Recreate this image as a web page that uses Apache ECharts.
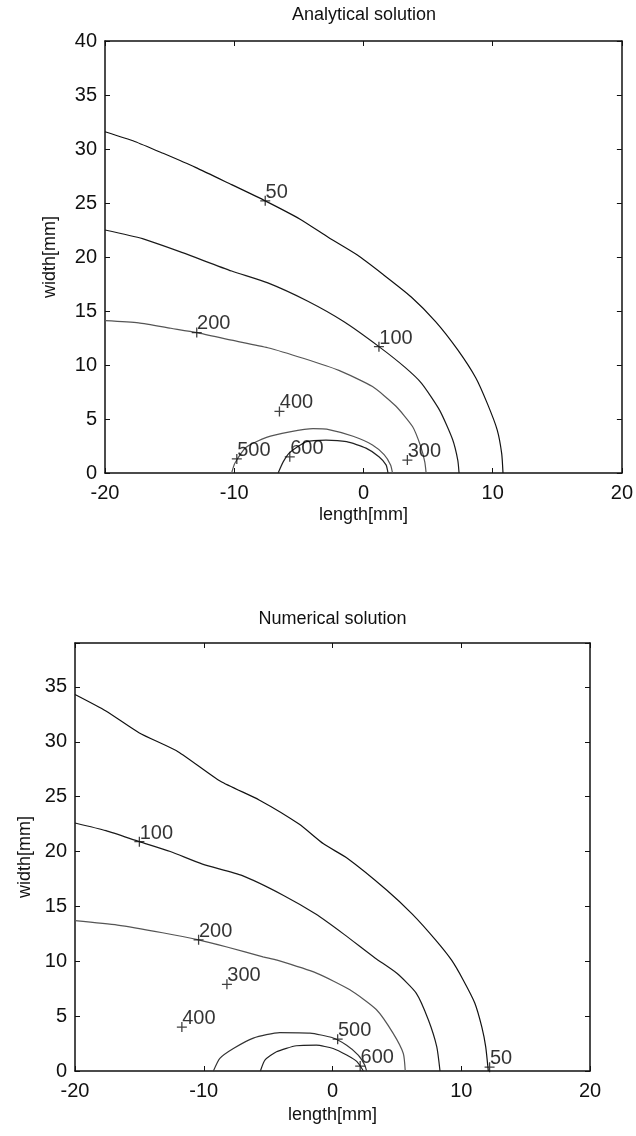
<!DOCTYPE html>
<html><head><meta charset="utf-8">
<script src="https://cdn.jsdelivr.net/npm/echarts/dist/echarts.min.js"></script>
<style>html,body{margin:0;padding:0;background:#fff}#c{width:636px;height:1136px}</style>
</head><body><div id="c"></div>
<script>
// ---- Analytical solution (top) ----
const A50  = [[-20,31.6],[-17.7,30.7],[-15.5,29.6],[-13.0,28.3],[-10.2,26.7],[-7.6,25.2],[-4.9,23.5],[-2.7,21.8],[-0.5,20.2],[1.5,18.4],[3.7,16.3],[5.6,14.0],[7.3,11.4],[8.7,8.8],[9.6,6.4],[10.35,4.0],[10.7,1.8],[10.8,0]];
const A100 = [[-20,22.5],[-17.1,21.7],[-14.0,20.4],[-10.2,18.7],[-7.4,17.6],[-4.3,15.9],[-1.5,14.0],[1.2,11.7],[3.2,9.8],[4.5,8.3],[5.9,5.8],[6.9,3.1],[7.3,1.2],[7.4,0]];
const A200 = [[-20,14.1],[-17.4,13.9],[-14.9,13.4],[-12.9,13.0],[-10.2,12.3],[-7.4,11.6],[-4.6,10.6],[-1.9,9.5],[0.7,8.0],[2.5,6.2],[3.8,4.3],[4.45,2.4],[4.75,1.0],[4.85,0]];
const A500 = [[-10.2,0],[-9.95,0.9],[-9.05,2.4],[-7.5,3.3],[-5.7,3.8],[-3.9,4.1],[-2.6,4.0],[-0.8,3.4],[0.7,2.6],[1.6,1.7],[2.1,0.75],[2.25,0]];
const A600 = [[-6.6,0],[-6.2,1.05],[-5.7,1.9],[-4.4,2.9],[-2.9,3.05],[-1.3,2.9],[0.2,2.3],[1.2,1.5],[1.75,0.75],[1.9,0]];
const A_LABELS = [[-7.6,25.2,'50'],[1.2,11.7,'100'],[-12.9,13.0,'200'],[3.4,1.2,'300'],[-6.5,5.7,'400'],[-9.8,1.3,'500'],[-5.7,1.5,'600']];

// ---- Numerical solution (bottom) ----
const N50  = [[-20,34.3],[-17.6,32.8],[-15.0,30.8],[-12.0,29.1],[-8.7,26.4],[-5.7,24.7],[-2.6,22.5],[-0.7,20.7],[1.2,19.35],[4.2,16.5],[6.2,14.3],[8.0,11.95],[9.25,10.1],[10.15,8.3],[11.05,6.2],[11.6,4.0],[11.9,2.2],[12.1,0]];
const N100 = [[-20,22.6],[-17.6,21.9],[-15.0,20.9],[-12.6,20.0],[-10.1,18.85],[-7.0,17.8],[-3.8,16.0],[-1.3,14.3],[0.9,12.45],[3.3,10.3],[5.0,8.9],[6.5,7.1],[7.45,4.65],[8.1,2.2],[8.35,0]];
const N200 = [[-20,13.7],[-16.7,13.3],[-13.2,12.6],[-10.4,11.95],[-8.2,11.3],[-5.4,10.4],[-4.3,10.1],[-1.2,8.9],[1.35,7.4],[3.4,5.6],[4.7,3.45],[5.5,1.6],[5.65,0]];
const N500 = [[-9.25,0],[-8.75,1.15],[-7.7,2.05],[-6.15,3.0],[-4.1,3.5],[-1.75,3.45],[-0.05,3.05],[1.1,2.35],[2.0,1.45],[2.5,0.55],[2.65,0]];
const N600 = [[-5.6,0],[-5.25,1.0],[-4.35,1.75],[-2.8,2.3],[-1.25,2.35],[0.05,2.05],[1.1,1.45],[1.9,0.85],[2.4,0]];
const N_LABELS = [[12.2,0.35,'50'],[-15.0,20.9,'100'],[-10.4,11.95,'200'],[-8.2,7.9,'300'],[-11.7,4.0,'400'],[0.4,2.9,'500'],[2.15,0.45,'600']];

const X_MIN = -20, X_MAX = 20, X_STEP = 10;
const Y_STEP = 5;
const TITLES = ['Analytical solution', 'Numerical solution'];
const X_NAME = 'length[mm]', Y_NAME = 'width[mm]';

const FONT = 'Liberation Sans, Arial, sans-serif';
const INK = '#111';

const grids = [
  {left:105, top:41, width:518, height:432},
  {left:75, top:643, width:515, height:428}
];
const yMax = [40, 39];
const yNameGap = [46, 40];
const xNameGap = [33, 35];

const xAxes = [], yAxes = [];
grids.forEach((g, i) => {
  const line = {show:true, onZero:false, lineStyle:{color:INK, width:1.5}};
  const tick = {show:true, inside:true, length:5, lineStyle:{color:INK, width:1}};
  xAxes.push({gridIndex:i, type:'value', min:X_MIN, max:X_MAX, interval:X_STEP, position:'bottom',
    name:X_NAME, nameLocation:'middle', nameGap:xNameGap[i],
    nameTextStyle:{fontSize:18, color:INK, fontFamily:FONT},
    axisLine:line, axisTick:tick, splitLine:{show:false},
    axisLabel:{fontSize:20, color:INK, fontFamily:FONT, margin:10}});
  xAxes.push({gridIndex:i, type:'value', min:X_MIN, max:X_MAX, interval:X_STEP, position:'top',
    axisLine:line, axisTick:tick, splitLine:{show:false}, axisLabel:{show:false}});
  yAxes.push({gridIndex:i, type:'value', min:0, max:yMax[i], interval:Y_STEP, position:'left',
    name:Y_NAME, nameLocation:'middle', nameGap:yNameGap[i],
    nameTextStyle:{fontSize:18, color:INK, fontFamily:FONT},
    axisLine:line, axisTick:tick, splitLine:{show:false},
    axisLabel:{fontSize:20, color:INK, fontFamily:FONT, margin:8,
      formatter: v => (v % Y_STEP === 0 ? String(v) : '')}});
  yAxes.push({gridIndex:i, type:'value', min:0, max:yMax[i], interval:Y_STEP, position:'right',
    axisLine:line, axisTick:tick, splitLine:{show:false}, axisLabel:{show:false}});
});

const PLUS = 'path://M5,0L5,10M0,5L10,5';
function contour(data, gi, color) {
  return {type:'line', xAxisIndex:gi*2, yAxisIndex:gi*2, data:data, showSymbol:false, symbol:'none',
    smooth:0.2, lineStyle:{color:color, width:1.2}, silent:true, animation:false, z:3};
}
function marks(data, gi) {
  return {type:'scatter', xAxisIndex:gi*2, yAxisIndex:gi*2, data:data, symbol:PLUS, symbolSize:10,
    itemStyle:{color:'rgba(0,0,0,0)', borderColor:INK, borderWidth:1.3}, silent:true, animation:false, z:4,
    label:{show:true, formatter:p => p.value[2], position:[6,7], align:'left', verticalAlign:'bottom',
      fontSize:20, color:'#000', fontFamily:FONT}};
}

const series = [
  contour(A50,0,'#111'), contour(A100,0,'#1a1a1a'), contour(A200,0,'#555'),
  contour(A500,0,'#555'), contour(A600,0,'#222'), marks(A_LABELS,0),
  contour(N50,1,'#111'), contour(N100,1,'#1a1a1a'), contour(N200,1,'#555'),
  contour(N500,1,'#333'), contour(N600,1,'#222'), marks(N_LABELS,1)
];

const titleY = [15, 619];
const graphic = grids.map((g, i) => ({
  type:'text', x:g.left + g.width/2, y:titleY[i], silent:true,
  style:{text:TITLES[i], align:'center', verticalAlign:'middle', fontSize:18, fill:INK, fontFamily:FONT}
}));

const chart = echarts.init(document.getElementById('c'), null, {renderer:'canvas'});
chart.setOption({
  backgroundColor:'#fff', animation:false,
  grid: grids.map(g => Object.assign({containLabel:false}, g)),
  xAxis: xAxes, yAxis: yAxes, series: series, graphic: graphic
});
</script></body></html>
